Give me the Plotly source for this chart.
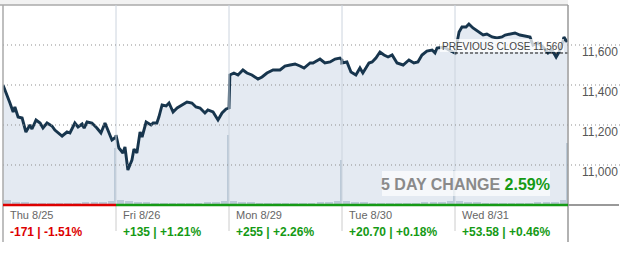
import plotly.graph_objects as go

# ---------------- data ----------------
days = ["Thu 8/25", "Fri 8/26", "Mon 8/29", "Tue 8/30", "Wed 8/31"]
day_changes = ["-171 | -1.51%", "+135 | +1.21%", "+255 | +2.26%", "+20.70 | +0.18%", "+53.58 | +0.46%"]
change_up = [False, True, True, True, True]

# minutes from open (0..390) and index level, per day
thu_min = [0, 10, 24, 35, 41, 52, 66, 79, 93, 100, 114, 128, 138, 152, 169, 179, 204, 221, 231, 248, 259, 273, 280, 290, 307, 324, 338, 352, 366, 376, 390]
thu_val = [11400, 11365, 11310, 11265, 11290, 11240, 11235, 11165, 11200, 11180, 11225, 11210, 11185, 11210, 11195, 11175, 11145, 11165, 11160, 11210, 11190, 11205, 11185, 11215, 11210, 11185, 11160, 11210, 11160, 11125, 11140]

fri_min = [0, 10, 24, 31, 41, 55, 62, 72, 83, 90, 104, 121, 128, 141, 148, 159, 173, 183, 197, 211, 228, 245, 262, 276, 290, 307, 317, 335, 352, 366, 380, 390]
fri_val = [11150, 11085, 11060, 11090, 10975, 11025, 11080, 11060, 11165, 11140, 11215, 11200, 11210, 11210, 11240, 11300, 11295, 11310, 11265, 11285, 11300, 11315, 11310, 11290, 11285, 11260, 11275, 11265, 11225, 11260, 11280, 11285]

mon_min = [0, 3, 17, 31, 48, 62, 79, 100, 114, 131, 152, 176, 193, 211, 228, 245, 259, 280, 290, 314, 331, 349, 366, 383, 390]
mon_val = [11285, 11450, 11460, 11450, 11475, 11460, 11450, 11430, 11440, 11460, 11475, 11475, 11495, 11500, 11505, 11495, 11485, 11510, 11510, 11530, 11510, 11515, 11530, 11535, 11525]

tue_min = [0, 17, 31, 48, 62, 72, 93, 104, 117, 131, 145, 159, 173, 190, 211, 231, 248, 262, 276, 293, 311, 321, 328, 352, 369, 390]
tue_val = [11510, 11515, 11465, 11450, 11485, 11460, 11510, 11515, 11535, 11565, 11550, 11540, 11550, 11510, 11500, 11525, 11510, 11515, 11550, 11570, 11575, 11560, 11585, 11590, 11575, 11560]

wed_min = [0, 14, 24, 38, 48, 62, 79, 97, 110, 128, 145, 162, 173, 190, 207, 224, 242, 259, 269, 286, 304, 321, 335, 349, 359, 369, 376, 387]
wed_val = [11560, 11665, 11690, 11690, 11705, 11685, 11670, 11650, 11655, 11640, 11635, 11640, 11650, 11655, 11660, 11650, 11645, 11640, 11600, 11610, 11590, 11560, 11575, 11540, 11565, 11600, 11640, 11615]

# volume (relative units) in 30-minute bins per day, plus closing spike
vol_bins = [0, 30, 60, 90, 120, 150, 180, 210, 240, 270, 300, 330, 360]
thu_vol = [5, 3, 3, 2, 2, 2, 2, 2, 2, 3, 3, 3, 4]
fri_vol = [5, 4, 3, 3, 2, 2, 2, 2, 2, 2, 3, 3, 4]
mon_vol = [4, 3, 3, 2, 2, 2, 2, 2, 2, 2, 3, 3, 4]
tue_vol = [4, 3, 3, 2, 2, 2, 2, 2, 2, 3, 3, 3, 4]
wed_vol = [4, 3, 3, 2, 2, 2, 2, 2, 2, 3, 3, 3, 5]
close_vol = [57, 70, 45, 35, 62]

y_ticks = [11000, 11200, 11400, 11600]
prev_close = 11560
five_day_change = "2.59%"

# ---------------- build ----------------
DAY = 390
mins = [thu_min, fri_min, mon_min, tue_min, wed_min]
vals = [thu_val, fri_val, mon_val, tue_val, wed_val]
vols = [thu_vol, fri_vol, mon_vol, tue_vol, wed_vol]

xs, ys = [], []
for d, (m, v) in enumerate(zip(mins, vals)):
    xs += [d * DAY + t for t in m]
    ys += v

vx, vy, vw = [], [], []
for d, vv in enumerate(vols):
    for b, h in zip(vol_bins, vv):
        vx.append(d * DAY + b + 15)
        vy.append(h)
        vw.append(26)
    vx.append(d * DAY + 387)
    vy.append(close_vol[d])
    vw.append(5)

W, H = 636, 257
def px(x):
    return x / W
def py(y):
    return 1 - y / H

X0, X1 = 3, 568
YT, YB = 5, 205

fig = go.Figure()

fig.add_trace(go.Bar(x=vx, y=vy, width=vw, marker=dict(color="#bccad8", line=dict(width=0)),
                     yaxis="y2", hoverinfo="skip", showlegend=False))

fig.add_trace(go.Scatter(x=xs, y=ys, mode="lines", fill="tozeroy", fillcolor="rgba(205,216,232,0.55)",
                         line=dict(color="#17354d", width=2.9, shape="linear"), showlegend=False,
                         hoverinfo="skip"))

shapes = []
# top grey header bar
shapes.append(dict(type="rect", xref="paper", yref="paper", x0=0, x1=px(X1), y0=py(YT), y1=1,
                   fillcolor="#f2f2f2", line=dict(width=0), layer="below"))
shapes.append(dict(type="line", xref="paper", yref="paper", x0=0, x1=px(X1), y0=py(YT), y1=py(YT),
                   line=dict(color="#aaaaaa", width=1.5)))
# day dividers within plot
for d in range(1, 5):
    shapes.append(dict(type="line", xref="x", yref="paper", x0=d * DAY, x1=d * DAY, y0=py(YB), y1=py(YT),
                       line=dict(color="#ccd4de", width=1), layer="above"))
    shapes.append(dict(type="line", xref="x", yref="paper", x0=d * DAY, x1=d * DAY, y0=py(231), y1=py(YB),
                       line=dict(color="#cccccc", width=1)))
# dotted gridlines
for t in y_ticks:
    shapes.append(dict(type="line", xref="paper", yref="y", x0=px(X0), x1=px(620), y0=t, y1=t,
                       line=dict(color="#8f8f8f", width=1, dash="1px,3px"), layer="above"))
# previous close dashed line
shapes.append(dict(type="line", xref="x", yref="y", x0=4 * DAY, x1=5 * DAY, y0=prev_close, y1=prev_close,
                   line=dict(color="#111111", width=1, dash="3px,2px"), layer="above"))
# left / right borders
shapes.append(dict(type="line", xref="paper", yref="paper", x0=px(X0), x1=px(X0), y0=py(242), y1=py(YT),
                   line=dict(color="#aaaaaa", width=1.5)))
shapes.append(dict(type="line", xref="paper", yref="paper", x0=px(X1), x1=px(X1), y0=py(242), y1=py(YT),
                   line=dict(color="#999999", width=1.5)))
# baseline coloured
shapes.append(dict(type="line", xref="x", yref="paper", x0=0, x1=DAY, y0=py(YB), y1=py(YB),
                   line=dict(color="#dd0000", width=2.5)))
shapes.append(dict(type="line", xref="x", yref="paper", x0=DAY, x1=5 * DAY, y0=py(YB), y1=py(YB),
                   line=dict(color="#159a15", width=2.5)))
shapes.append(dict(type="line", xref="paper", yref="paper", x0=px(X1), x1=px(619), y0=py(YB), y1=py(YB),
                   line=dict(color="#999999", width=2)))
# label boxes
shapes.append(dict(type="rect", xref="paper", yref="paper", x0=px(440), x1=px(564), y0=py(52), y1=py(39),
                   fillcolor="rgba(255,255,255,0.75)", line=dict(width=0), layer="above"))
shapes.append(dict(type="rect", xref="paper", yref="paper", x0=px(382), x1=px(550), y0=py(196), y1=py(171),
                   fillcolor="rgba(255,255,255,0.65)", line=dict(width=0), layer="above"))

ann = []
FONT = "Liberation Sans, Arial, sans-serif"
for t in y_ticks:
    ann.append(dict(xref="paper", yref="y", x=px(580), y=t, yshift=-7, text=f"{t:,}", showarrow=False,
                    xanchor="left", yanchor="middle", font=dict(family=FONT, size=12, color="#555555")))
for d in range(5):
    ann.append(dict(xref="x", yref="paper", x=d * DAY, xshift=5, y=py(215), text=days[d],
                    showarrow=False, xanchor="left", yanchor="middle",
                    font=dict(family=FONT, size=11, color="#666666")))
    ann.append(dict(xref="x", yref="paper", x=d * DAY, xshift=5, y=py(232), text=f"<b>{day_changes[d]}</b>",
                    showarrow=False, xanchor="left", yanchor="middle",
                    font=dict(family=FONT, size=12, color="#159a15" if change_up[d] else "#dd0000")))
ann.append(dict(xref="paper", yref="paper", x=px(502), y=py(46), text="PREVIOUS CLOSE 11,560", showarrow=False,
                xanchor="center", yanchor="middle", font=dict(family=FONT, size=10, color="#444444")))
ann.append(dict(xref="paper", yref="paper", x=px(466), y=py(184),
                text=f"<b><span style='color:#8a8a8a'>5 DAY CHANGE</span> <span style='color:#159a15'>{five_day_change}</span></b>",
                showarrow=False, xanchor="center", yanchor="middle", font=dict(family=FONT, size=16, color="#8a8a8a")))

fig.update_layout(
    width=W, height=H, margin=dict(l=0, r=0, t=0, b=0),
    paper_bgcolor="white", plot_bgcolor="white",
    xaxis=dict(domain=[px(X0), px(X1)], range=[0, 5 * DAY], showgrid=False, zeroline=False,
               showticklabels=False, ticks="", fixedrange=True),
    yaxis=dict(domain=[py(YB), py(YT)], range=[10800, 11800], showgrid=False, zeroline=False,
               showticklabels=False, ticks=""),
    yaxis2=dict(domain=[py(YB), py(YT)], range=[0, 200], overlaying="y", showgrid=False, zeroline=False,
                showticklabels=False, ticks=""),
    shapes=shapes, annotations=ann, bargap=0, showlegend=False,
)

fig.write_html("out.html")
